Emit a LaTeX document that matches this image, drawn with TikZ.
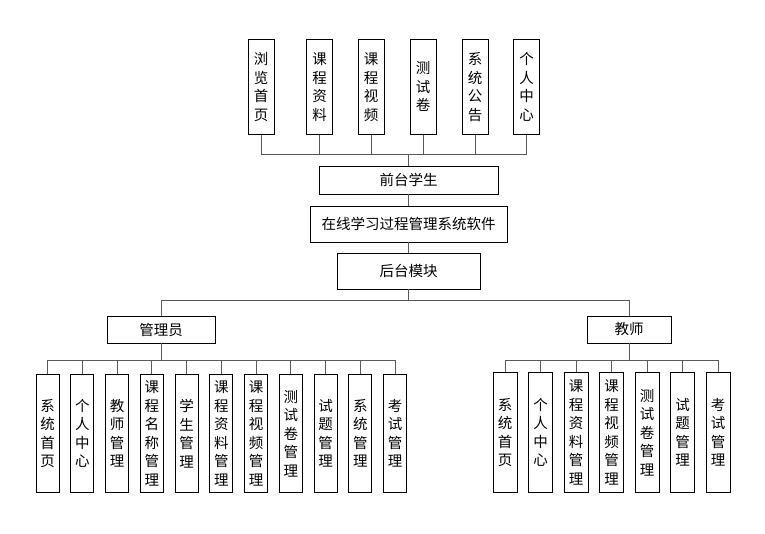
\documentclass[tikz,border=0pt]{standalone}
\usepackage{fontspec}
\newfontfamily\cjk{Noto Sans CJK SC}
\tikzset{
	box/.style={draw=black, line width=0.9pt, inner sep=0pt,
			font=\cjk\fontsize{14.5}{18.5}\selectfont},
	vbox/.style={box, align=center, anchor=north},
	link/.style={draw=black!65, line width=1pt}
}

\begin{document}
\begin{tikzpicture}[x=1pt, y=-1pt]
		\useasboundingbox (0,0) rectangle (765,534);
		% front end
		\node[box, minimum width=179pt, minimum height=28pt] (qt) at (408.5,180) {前台学生};
		\node[box, minimum width=197pt, minimum height=36pt] (zx) at (408.5,224) {在线学习过程管理系统软件};
		\node[box, minimum width=143pt, minimum height=36pt] (ht) at (408.5,271) {后台模块};
		\coordinate (tbus) at (408.5,155);
		\foreach \n/\x/\t in {1/261/浏\\览\\首\\页, 2/319.5/课\\程\\资\\料, 3/371/课\\程\\视\\频,
				4/423/测\\试\\卷, 5/475/系\\统\\公\\告, 6/526.5/个\\人\\中\\心}{
				\node[vbox, minimum width=26pt, minimum height=95pt] (t\n) at (\x,39) {\t};
				\draw[link] (t\n.south) |- (tbus);
			}
		\draw[link] (tbus) -- (qt.north);
		\draw[link] (qt.south) -- (zx.north);
		\draw[link] (zx.south) -- (ht.north);
		% back end
		\node[box, minimum width=108pt, minimum height=27pt] (gly) at (161,329.5) {管理员};
		\node[box, minimum width=84pt, minimum height=27pt] (js) at (629,329.5) {教师};
		\coordinate (hbus) at (408.5,301);
		\draw[link] (ht.south) -- (hbus);
		\draw[link] (hbus) -| (gly.north);
		\draw[link] (hbus) -| (js.north);
		\coordinate (abus) at (161,360);
		\draw[link] (gly.south) -- (abus);
		\foreach \n/\t in {0/系\\统\\首\\页, 1/个\\人\\中\\心, 2/教\\师\\管\\理, 3/课\\程\\名\\称\\管\\理,
				4/学\\生\\管\\理, 5/课\\程\\资\\料\\管\\理, 6/课\\程\\视\\频\\管\\理, 7/测\\试\\卷\\管\\理,
				8/试\\题\\管\\理, 9/系\\统\\管\\理, 10/考\\试\\管\\理}{
				\node[vbox, minimum width=23pt, minimum height=118pt] (a\n) at (47.5+34.75*\n,374) {\t};
				\draw[link] (a\n.north) |- (abus);
			}
		\coordinate (jbus) at (629,360);
		\draw[link] (js.south) -- (jbus);
		\foreach \n/\t in {0/系\\统\\首\\页, 1/个\\人\\中\\心, 2/课\\程\\资\\料\\管\\理, 3/课\\程\\视\\频\\管\\理,
				4/测\\试\\卷\\管\\理, 5/试\\题\\管\\理, 6/考\\试\\管\\理}{
				\node[vbox, minimum width=24pt, minimum height=120pt] (j\n) at (505+35.5*\n,372) {\t};
				\draw[link] (j\n.north) |- (jbus);
			}
	\end{tikzpicture}
\end{document}
